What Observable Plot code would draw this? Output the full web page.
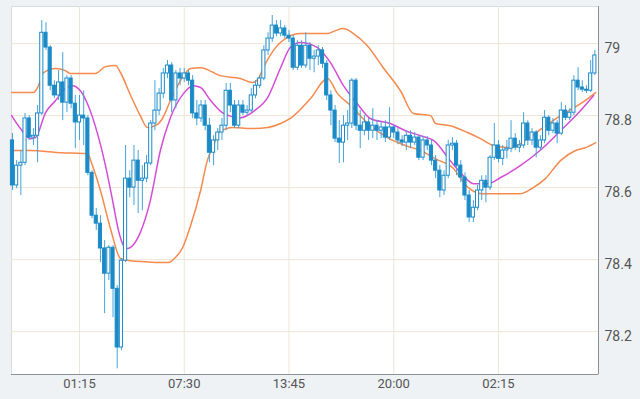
<!DOCTYPE html>
<html>
<head>
<meta charset="utf-8">
<script src="https://cdn.jsdelivr.net/npm/d3@7"></script>
<script src="https://cdn.jsdelivr.net/npm/@observablehq/plot@0.6"></script>
<style>
  html, body { margin: 0; padding: 0; background: #eef2f5; }
  #chart { width: 640px; height: 399px; }
</style>
</head>
<body>
<div id="chart"></div>
<script>
// 15-minute candles, first candle time
const startTime = "2020-01-01T21:15:00Z";
const stepMinutes = 15;

const open = [78.731,78.606,78.661,78.669,78.792,78.739,78.744,78.806,79.030,78.989,
78.883,78.856,78.892,78.836,78.903,78.833,78.781,78.800,78.792,78.641,
78.522,78.500,78.431,78.361,78.433,78.319,78.156,78.397,78.625,78.600,
78.675,78.619,78.625,78.667,78.778,78.814,78.861,78.917,78.939,78.842,
78.917,78.903,78.917,78.897,78.806,78.792,78.828,78.772,78.697,78.731,
78.753,78.772,78.869,78.828,78.772,78.828,78.808,78.814,78.856,78.883,
78.903,78.981,79.014,79.050,79.028,79.042,79.022,79.014,78.933,78.994,
78.939,78.994,78.958,78.964,78.981,78.944,78.856,78.814,78.736,78.725,
78.772,78.778,78.897,78.772,78.758,78.781,78.758,78.772,78.758,78.767,
78.739,78.767,78.753,78.731,78.725,78.744,78.725,78.739,78.683,78.731,
78.717,78.675,78.647,78.592,78.633,78.717,78.722,78.661,78.628,78.578,
78.517,78.544,78.592,78.619,78.600,78.683,78.717,78.680,78.703,78.708,
78.736,78.711,78.717,78.778,78.731,78.753,78.711,78.731,78.794,78.758,
78.778,78.750,78.814,78.794,78.808,78.897,78.878,78.872,78.869,78.917];

const high = [78.750,78.675,78.703,78.806,78.800,78.764,78.828,79.064,79.058,78.994,
78.897,78.925,78.975,78.911,78.911,78.856,78.856,78.869,78.800,78.647,
78.542,78.522,78.453,78.439,78.439,78.328,78.403,78.717,78.647,78.717,
78.703,78.661,78.689,78.786,78.897,78.875,78.931,78.953,78.947,78.925,
78.931,78.931,78.925,78.911,78.842,78.842,78.842,78.792,78.744,78.764,
78.792,78.889,78.889,78.842,78.842,78.842,78.828,78.875,78.897,78.911,
78.994,79.030,79.078,79.064,79.064,79.050,79.036,79.022,79.008,79.008,
79.030,79.003,78.981,78.994,78.989,78.953,78.869,78.828,78.786,78.800,
78.814,78.903,78.903,78.814,78.800,78.792,78.819,78.786,78.781,78.786,
78.822,78.772,78.764,78.744,78.758,78.758,78.753,78.744,78.742,78.742,
78.731,78.689,78.661,78.647,78.731,78.739,78.731,78.675,78.641,78.592,
78.564,78.606,78.633,78.633,78.689,78.778,78.731,78.717,78.731,78.786,
78.750,78.731,78.808,78.786,78.764,78.758,78.744,78.814,78.800,78.792,
78.786,78.836,78.828,78.819,78.911,78.933,78.897,78.883,78.953,78.981];

const low = [78.592,78.597,78.578,78.661,78.731,78.717,78.669,78.800,78.981,78.869,
78.847,78.842,78.786,78.808,78.819,78.708,78.731,78.717,78.633,78.514,
78.481,78.392,78.250,78.342,78.239,78.097,78.147,78.392,78.572,78.550,
78.528,78.536,78.614,78.661,78.758,78.800,78.847,78.903,78.808,78.819,
78.883,78.892,78.883,78.792,78.772,78.781,78.758,78.669,78.661,78.703,
78.731,78.758,78.808,78.764,78.764,78.800,78.800,78.808,78.847,78.875,
78.897,78.967,79.003,79.019,79.019,79.014,79.003,78.925,78.925,78.931,
78.931,78.925,78.919,78.939,78.931,78.842,78.772,78.725,78.667,78.669,
78.731,78.764,78.758,78.708,78.744,78.731,78.736,78.731,78.736,78.725,
78.731,78.736,78.719,78.714,78.703,78.708,78.717,78.675,78.675,78.703,
78.661,78.625,78.572,78.578,78.625,78.703,78.633,78.614,78.564,78.503,
78.503,78.536,78.564,78.558,78.592,78.675,78.669,78.661,78.680,78.697,
78.703,78.697,78.708,78.717,78.717,78.683,78.703,78.722,78.744,78.750,
78.722,78.744,78.786,78.786,78.800,78.869,78.864,78.861,78.864,78.911];

const close = [78.606,78.661,78.669,78.792,78.739,78.744,78.806,79.030,78.989,78.883,
78.856,78.892,78.836,78.903,78.833,78.781,78.800,78.792,78.641,78.522,
78.500,78.431,78.361,78.433,78.319,78.156,78.397,78.625,78.600,78.675,
78.619,78.625,78.667,78.778,78.814,78.861,78.917,78.939,78.842,78.917,
78.903,78.917,78.897,78.806,78.792,78.828,78.772,78.697,78.731,78.753,
78.772,78.869,78.828,78.772,78.828,78.808,78.814,78.856,78.883,78.903,
78.981,79.014,79.050,79.028,79.042,79.022,79.014,78.933,78.994,78.939,
78.994,78.958,78.964,78.981,78.944,78.856,78.814,78.736,78.725,78.772,
78.778,78.897,78.772,78.758,78.781,78.758,78.772,78.758,78.767,78.739,
78.767,78.753,78.731,78.725,78.744,78.725,78.739,78.683,78.731,78.717,
78.675,78.647,78.592,78.633,78.717,78.722,78.661,78.628,78.578,78.517,
78.544,78.592,78.619,78.600,78.683,78.717,78.680,78.703,78.708,78.736,
78.711,78.717,78.778,78.731,78.753,78.711,78.731,78.794,78.758,78.778,
78.750,78.814,78.794,78.808,78.897,78.878,78.872,78.869,78.917,78.967];

// Bollinger upper band (candle position, price)
const upperPos = [-0.2,5.0,6.2,7.4,10.3,12.6,13.8,19.8,22.2,24.6,25.8,28.2,30.5,32.2,34.1,35.8,37.7,40.1,42.5,44.9,49.6,54.4,57.3,58.7,59.9,62.3,65.6,68.7,75.2,77.1,79.0,81.4,84.7,88.5,92.6,95.7,99.8,101.0,104.5,108.6,111.7,114.8,118.9,122.4,126.7,130.8,135.6,139.2];
const upperVal = [78.864,78.864,78.883,78.919,78.931,78.925,78.917,78.917,78.936,78.939,78.919,78.856,78.800,78.767,78.772,78.792,78.842,78.897,78.931,78.933,78.911,78.903,78.892,78.903,78.933,78.981,79.017,79.028,79.028,79.036,79.042,79.028,78.994,78.933,78.869,78.806,78.800,78.778,78.772,78.753,78.736,78.717,78.711,78.731,78.767,78.800,78.833,78.864];

// Bollinger lower band
const lowerPos = [-0.2,4.3,11.5,17.9,19.1,21.0,23.4,25.8,28.2,31.7,35.3,37.2,38.9,40.6,42.5,44.9,46.5,48.0,49.2,52.7,56.8,60.9,64.0,66.3,71.1,75.2,77.6,80.7,85.4,89.5,93.8,97.4,101.0,105.0,108.8,112.2,116.5,121.2,124.3,127.2,130.8,134.4,136.8,139.2];
const lowerVal = [78.703,78.703,78.697,78.694,78.661,78.592,78.486,78.403,78.397,78.394,78.392,78.392,78.406,78.433,78.494,78.592,78.675,78.717,78.753,78.767,78.764,78.767,78.778,78.792,78.847,78.903,78.861,78.828,78.772,78.739,78.717,78.703,78.680,78.656,78.600,78.583,78.583,78.583,78.600,78.625,78.675,78.703,78.711,78.725];

// Moving average (magenta)
const maPos = [-0.2,1.9,4.3,5.5,7.9,10.3,12.6,14.3,16.2,17.9,20.3,22.2,23.9,25.3,26.5,27.4,30.5,32.9,35.3,37.7,40.8,43.2,44.9,47.3,50.4,54.4,57.8,60.9,64.0,66.3,68.7,72.8,75.9,79.0,82.3,85.4,90.2,93.8,97.4,100.5,104.5,107.6,110.0,113.4,116.5,121.2,125.9,130.8,135.6,138.7];
const maVal = [78.800,78.764,78.736,78.739,78.808,78.842,78.875,78.883,78.869,78.833,78.750,78.661,78.564,78.481,78.439,78.431,78.475,78.564,78.703,78.794,78.861,78.883,78.878,78.842,78.806,78.794,78.814,78.850,78.933,78.989,79.003,78.989,78.947,78.883,78.833,78.792,78.778,78.758,78.744,78.731,78.675,78.633,78.611,78.611,78.628,78.661,78.703,78.758,78.814,78.856];

// Axis ticks
const xTickStamps = ["2020-01-02T01:15:00Z","2020-01-02T07:30:00Z","2020-01-02T13:45:00Z","2020-01-02T20:00:00Z","2020-01-03T02:15:00Z"];
const xTickLabels = ["01:15","07:30","13:45","20:00","02:15"];
const yTicks = [78.2, 78.4, 78.6, 78.8, 79];
const yTickLabels = ["78.2","78.4","78.6","78.8","79"];

// Visible range (in candle positions) and price range
const xRangePos = [-0.23, 139.87];
const yDomain = [78.081, 79.103];

const t0 = Date.parse(startTime);
const stepMs = stepMinutes * 60000;
const atPos = p => new Date(t0 + p * stepMs);

const candles = open.map((o, i) => ({t: atPos(i), o, h: high[i], l: low[i], c: close[i]}));
const upper = upperPos.map((p, i) => ({t: atPos(p), v: upperVal[i]}));
const lower = lowerPos.map((p, i) => ({t: atPos(p), v: lowerVal[i]}));
const ma = maPos.map((p, i) => ({t: atPos(p), v: maVal[i]}));
const xTicks = xTickStamps.map(s => new Date(s));
const xDomain = xRangePos.map(atPos);

const blue = "#1b8ac7";
const wick = "#45a3d9";
const orange = "#f6894d";
const magenta = "#d24ed6";
const grid = "#ece6d6";
const font = "Roboto, 'Liberation Sans', sans-serif";
const halfBody = 5.6 * 60000;

const chart = Plot.plot({
  width: 640,
  height: 399,
  marginLeft: 11,
  marginRight: 42,
  marginTop: 6,
  marginBottom: 25,
  x: {type: "utc", domain: xDomain, label: null},
  y: {domain: yDomain, label: null},
  style: {background: "transparent", fontFamily: font},
  marks: [
    Plot.frame({fill: "white", stroke: "#d6dce1"}),
    Plot.gridY(yTicks, {stroke: grid, strokeOpacity: 1}),
    Plot.gridX(xTicks, {stroke: grid, strokeOpacity: 1}),
    Plot.ruleY([yDomain[0]], {stroke: "#8c9196"}),
    Plot.ruleX([xDomain[1]], {stroke: "#8c9196"}),
    Plot.line(upper, {x: "t", y: "v", stroke: orange, strokeWidth: 1.5, curve: "monotone-x"}),
    Plot.line(lower, {x: "t", y: "v", stroke: orange, strokeWidth: 1.5, curve: "monotone-x"}),
    Plot.line(ma, {x: "t", y: "v", stroke: magenta, strokeWidth: 1.5, curve: "monotone-x"}),
    Plot.ruleX(candles, {x: "t", y1: "l", y2: "h", stroke: wick, strokeWidth: 1}),
    Plot.rect(candles, {
      x1: d => new Date(+d.t - halfBody),
      x2: d => new Date(+d.t + halfBody),
      y1: "o", y2: "c",
      fill: d => d.c >= d.o ? "white" : blue,
      stroke: blue, strokeWidth: 1
    }),
    Plot.axisX(xTicks, {
      label: null, tickSize: 0, tickPadding: 4, fontSize: 13, fill: "#555",
      tickFormat: d => xTickLabels[xTicks.findIndex(x => +x === +d)]
    }),
    Plot.axisY(yTicks, {
      label: null, anchor: "right", tickSize: 0, tickPadding: 6, dy: 5, fontSize: 14, fill: "#555",
      tickFormat: d => yTickLabels[yTicks.indexOf(d)]
    })
  ]
});
document.getElementById("chart").append(chart);
</script>
</body>
</html>
